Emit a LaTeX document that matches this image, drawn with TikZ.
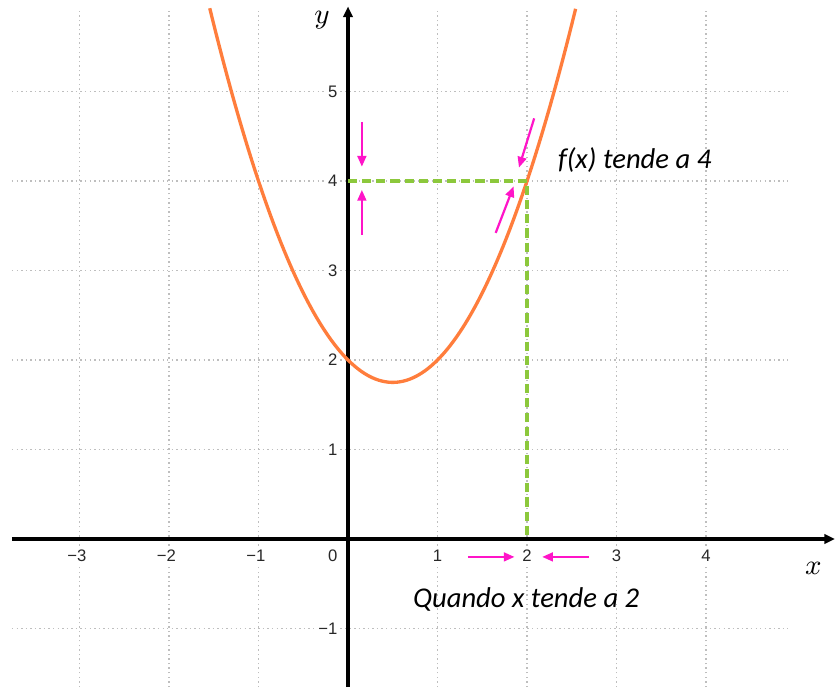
\documentclass[tikz,border=0pt]{standalone}
\usepackage{fontspec}
\setmainfont{Carlito}
\newfontfamily\ticksf{Liberation Sans}
\usetikzlibrary{arrows.meta}
\definecolor{curvecol}{RGB}{255,125,60}
\definecolor{limgreen}{RGB}{140,200,60}
\definecolor{pinkarr}{RGB}{255,20,200}
\definecolor{gridcol}{RGB}{190,190,190}
\definecolor{ticktext}{RGB}{40,40,40}
\tikzset{
  gridline/.style={draw=gridcol, line width=0.45pt, dash pattern=on 0.45pt off 1.0pt},
  axisline/.style={draw=black, line width=1pt, -{Triangle[length=3.4pt,width=3pt]}},
  fcurve/.style={draw=curvecol, line width=1.05pt},
  guide/.style={draw=limgreen, line width=1.05pt, dash pattern=on 2.9pt off 1.6pt},
  apparrow/.style={draw=pinkarr, line width=0.7pt, -{Triangle[length=3.4pt,width=2.8pt]}},
  ticklab/.style={font=\ticksf\fontsize{5.3}{6}\selectfont, text=ticktext, fill=white, inner sep=0.6pt},
  axislab/.style={font=\fontsize{9.5}{11}\selectfont, inner sep=0pt},
  note/.style={font=\itshape\fontsize{9.1}{10}\selectfont, inner sep=0pt}
}
\begin{document}
\begin{tikzpicture}[x=1cm,y=1cm]
\useasboundingbox[fill=white] (-3.888,-1.654) rectangle (5.441,6.022);
% grid
\foreach \gx in {-3,-2,-1,1,2,3,4}
  \draw[gridline] (\gx,-1.654) -- (\gx,5.9);
\foreach \gy in {-1,1,2,3,4,5}
  \draw[gridline] (-3.754,\gy) -- (4.916,\gy);
% tick labels
\node[ticklab] (xtm3) at (-3.03,-0.19) {−3};
\node[ticklab] (xtm2) at (-2.03,-0.19) {−2};
\node[ticklab] (xtm1) at (-1.03,-0.19) {−1};
\foreach \t in {1,2,3,4} \node[ticklab] (xt\t) at (\t,-0.19) {\t};
\node[ticklab] (zero) at (-0.17,-0.19) {0};
\foreach \t in {1,2,3,4,5} \node[ticklab, anchor=east] (yt\t) at (-0.09,\t) {\t};
\node[ticklab, anchor=east] (ytm1) at (-0.09,-1) {−1};
% axes
\coordinate (xstart) at (-3.754,0);
\coordinate (xend) at (5.441,0);
\coordinate (ystart) at (0,-1.654);
\coordinate (yend) at (0,5.95);
\draw[axisline] (xstart) -- (xend);
\draw[axisline] (ystart) -- (yend);
% axis labels
\node[axislab] (ylab) at (-0.29,5.80) {$y$};
\node[axislab] (xlab) at (5.2,-0.33) {$x$};
% curve
\draw[fcurve, domain=-1.5445:2.5445, samples=120, smooth] plot (\x,{\x*\x-\x+2});
% guides
\coordinate (ya) at (0,4);
\coordinate (pt) at (2,4);
\coordinate (xa) at (2,0);
\draw[guide] (ya) -- (pt) -- (xa);
% pink arrows
\coordinate (v1s) at (0.155,4.66); \coordinate (v1e) at (0.155,4.16);
\coordinate (v2s) at (0.155,3.40); \coordinate (v2e) at (0.155,3.90);
\coordinate (c1s) at (2.08,4.70); \coordinate (c1e) at (1.91,4.15);
\coordinate (c2s) at (1.65,3.42); \coordinate (c2e) at (1.85,3.94);
\coordinate (h1s) at (1.34,-0.20); \coordinate (h1e) at (1.86,-0.20);
\coordinate (h2s) at (2.69,-0.20); \coordinate (h2e) at (2.17,-0.20);
\draw[apparrow] (v1s) -- (v1e);
\draw[apparrow] (v2s) -- (v2e);
\draw[apparrow] (c1s) -- (c1e);
\draw[apparrow] (c2s) -- (c2e);
\draw[apparrow] (h1s) -- (h1e);
\draw[apparrow] (h2s) -- (h2e);
% notes
\node[note, anchor=west] (ftext) at (2.34,4.23) {f(x) tende a 4};
\node[note, anchor=west] (qtext) at (0.72,-0.67) {Quando x tende a 2};
\end{tikzpicture}
\end{document}
